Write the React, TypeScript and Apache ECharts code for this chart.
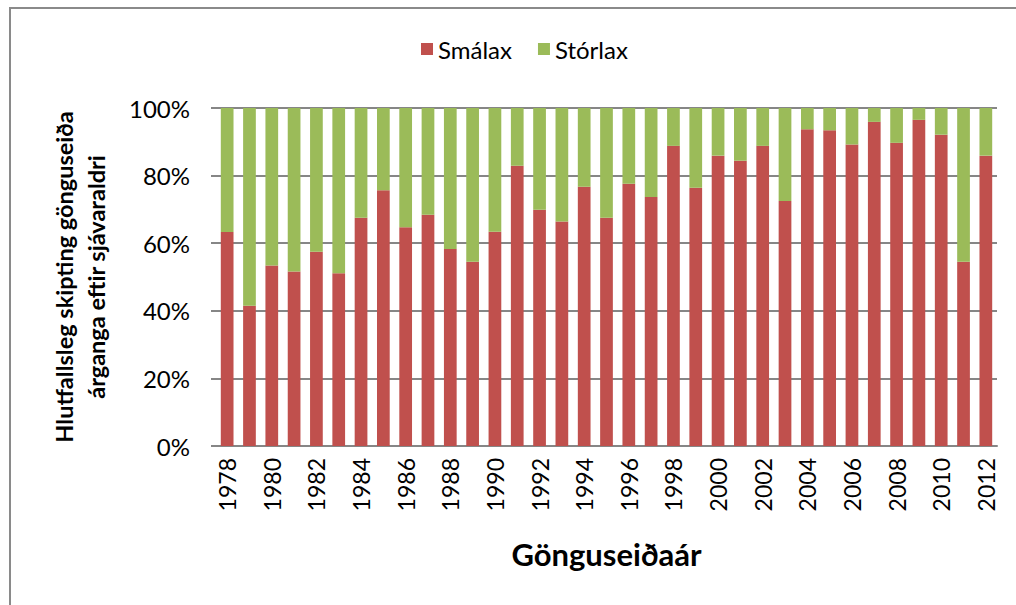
import React, { useEffect, useRef } from "react";
import * as echarts from "echarts";

const years = [
  "1978", "1979", "1980", "1981", "1982", "1983", "1984", "1985", "1986", "1987",
  "1988", "1989", "1990", "1991", "1992", "1993", "1994", "1995", "1996", "1997",
  "1998", "1999", "2000", "2001", "2002", "2003", "2004", "2005", "2006", "2007",
  "2008", "2009", "2010", "2011", "2012",
];

const smalax = [
  63.3, 41.5, 53.4, 51.6, 57.5, 51.1, 67.5, 75.7, 64.7, 68.4,
  58.3, 54.5, 63.4, 82.9, 69.9, 66.4, 76.7, 67.5, 77.6, 73.7,
  88.8, 76.4, 85.9, 84.4, 88.8, 72.5, 93.7, 93.4, 89.2, 95.9,
  89.7, 96.5, 92.1, 54.5, 85.9,
];

const storlax = [
  36.7, 58.5, 46.6, 48.4, 42.5, 48.9, 32.5, 24.3, 35.3, 31.6,
  41.7, 45.5, 36.6, 17.1, 30.1, 33.6, 23.3, 32.5, 22.4, 26.3,
  11.2, 23.6, 14.1, 15.6, 11.2, 27.5, 6.3, 6.6, 10.8, 4.1,
  10.3, 3.5, 7.9, 45.5, 14.1,
];

const seriesNames = ["Smálax", "Stórlax"];
const yTitle = "Hlutfallsleg skipting gönguseiða\nárganga eftir sjávaraldri";
const xTitle = "Gönguseiðaár";

const FONT = "Lato, 'Open Sans', sans-serif";

export default function App() {
  const ref = useRef<HTMLDivElement>(null);

  useEffect(() => {
    if (!ref.current) return;
    const chart = echarts.init(ref.current, undefined, { renderer: "svg" });
    chart.setOption({
      animation: false,
      backgroundColor: "#ffffff",
      textStyle: { fontFamily: FONT },
      graphic: [
        {
          type: "rect",
          shape: { x: 10, y: 8, width: 1200, height: 800 },
          style: { fill: "none", stroke: "#8a8a8a", lineWidth: 2 },
          silent: true,
        },
      ],
      legend: {
        left: 416,
        top: 32,
        itemWidth: 12,
        itemHeight: 12,
        itemGap: 26,
        icon: "rect",
        textStyle: { fontFamily: FONT, fontSize: 24, color: "#000" },
        data: seriesNames,
      },
      grid: { left: 216, right: 19, top: 108, bottom: 159 },
      xAxis: {
        type: "category",
        data: years,
        name: xTitle,
        nameLocation: "middle",
        nameGap: 92,
        nameTextStyle: { fontFamily: FONT, fontSize: 31, fontWeight: "bold", color: "#000" },
        axisLine: { show: true, lineStyle: { color: "#868686", width: 2 } },
        axisTick: { show: false },
        axisLabel: {
          interval: 1,
          rotate: 90,
          margin: 12,
          fontFamily: FONT,
          fontSize: 23,
          color: "#000",
        },
      },
      yAxis: {
        type: "value",
        min: 0,
        max: 100,
        interval: 20,
        name: yTitle,
        nameLocation: "middle",
        nameRotate: 90,
        nameGap: 104,
        nameTextStyle: {
          fontFamily: FONT,
          fontSize: 23.5,
          fontWeight: "bold",
          color: "#000",
          lineHeight: 32,
          align: "center",
        },
        axisLine: { show: false },
        axisTick: { show: true, length: 5, lineStyle: { color: "#868686", width: 2 } },
        splitLine: { show: true, lineStyle: { color: "#868686", width: 2 } },
        axisLabel: {
          formatter: "{value}%",
          margin: 26,
          fontFamily: FONT,
          fontSize: 24,
          color: "#000",
        },
      },
      series: [
        {
          name: seriesNames[0],
          type: "bar",
          stack: "total",
          barWidth: "57%",
          itemStyle: { color: "#C0504D" },
          data: smalax,
        },
        {
          name: seriesNames[1],
          type: "bar",
          stack: "total",
          barWidth: "57%",
          itemStyle: { color: "#9BBB59" },
          data: storlax,
        },
      ],
    });
    return () => chart.dispose();
  }, []);

  return (
    <div
      ref={ref}
      style={{ position: "absolute", left: 0, top: 0, width: 1016, height: 605 }}
    />
  );
}
